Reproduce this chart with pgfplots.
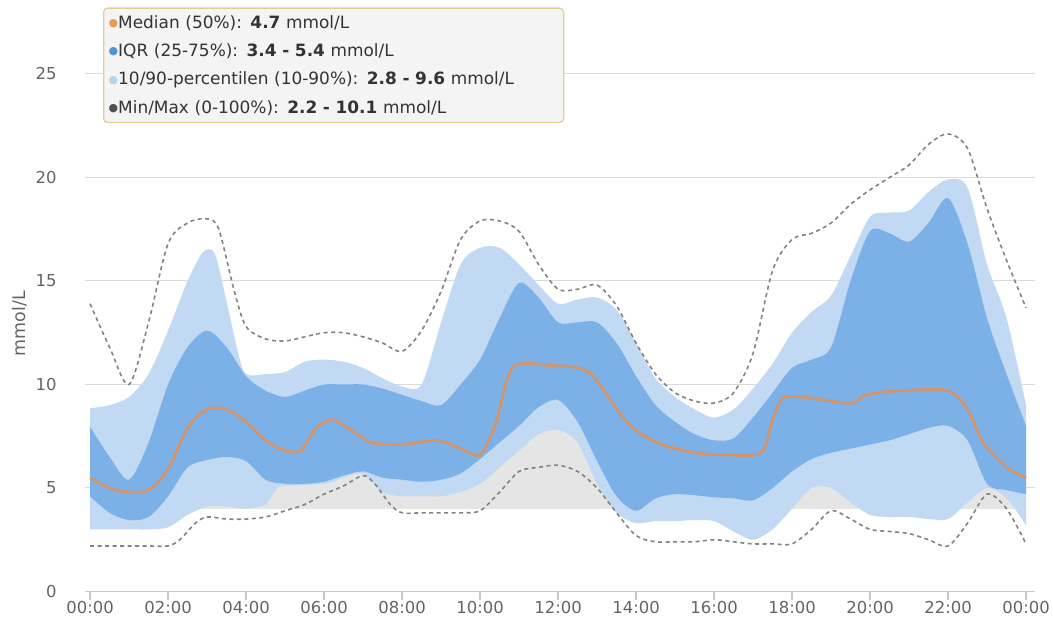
\documentclass[border=0pt]{standalone}
\usepackage{pgfplots}
\pgfplotsset{compat=1.18}
\usepackage{pgfplotstable}
\usepgfplotslibrary{fillbetween}
\usepackage{fontspec}
\setmainfont{DejaVu Sans}

\definecolor{lb}{RGB}{193,217,242}
\definecolor{ib}{RGB}{124,177,232}
\definecolor{gb}{RGB}{229,229,229}
\definecolor{med}{RGB}{205,150,115}
\definecolor{dsh}{RGB}{130,130,130}
\definecolor{grd}{RGB}{218,218,218}
\definecolor{lgbd}{RGB}{228,206,150}
\definecolor{lgbg}{RGB}{244,244,244}
\definecolor{tck}{RGB}{100,100,100}
\definecolor{bmed}{RGB}{232,155,85}
\definecolor{biqr}{RGB}{80,150,215}
\definecolor{bpc}{RGB}{185,210,235}
\definecolor{bmm}{RGB}{80,80,80}

\pgfplotstableread{
x y
0 4
24 4
}\tgl
\pgfplotstableread{
x y
0 7.8
24 7.8
}\tgh

\pgfplotstableread{
x y
0 13.9
0.5 11.8
1 10.0
1.5 13.0
2 16.8
2.5 17.8
3 18.0
3.3 17.5
3.7 14.5
4 12.8
4.5 12.2
5 12.1
5.5 12.3
6 12.5
6.5 12.5
7 12.3
7.5 12.0
8 11.6
8.5 12.6
9 14.5
9.5 17.0
10 17.9
10.5 17.9
11 17.4
11.5 15.8
12 14.6
12.5 14.6
13 14.8
13.5 13.8
14 12.0
14.5 10.5
15 9.6
15.5 9.2
16 9.1
16.5 9.6
17 11.5
17.5 15.5
18 17.0
18.5 17.3
19 17.8
19.5 18.7
20 19.4
20.5 20.0
21 20.6
21.5 21.6
22 22.1
22.5 21.4
23 18.5
23.5 16.0
24 13.7
}\tmax

\pgfplotstableread{
x y
0 2.2
0.5 2.2
1 2.2
1.5 2.2
2 2.2
2.3 2.5
2.7 3.3
3 3.6
3.5 3.5
4 3.5
4.5 3.6
5 3.9
5.5 4.2
6 4.7
6.5 5.1
7 5.6
7.3 5.2
7.7 4.2
8 3.8
8.5 3.8
9 3.8
9.5 3.8
10 3.9
10.5 4.8
11 5.8
11.5 6.0
12 6.1
12.5 5.8
13 5.0
13.5 3.8
14 2.7
14.5 2.4
15 2.4
15.5 2.4
16 2.5
16.5 2.4
17 2.3
17.5 2.3
18 2.3
18.5 3.0
19 3.9
19.5 3.5
20 3.0
20.5 2.9
21 2.8
21.5 2.5
22 2.2
22.5 3.3
23 4.7
23.5 4.0
24 2.3
}\tmin

\pgfplotstableread{
x y
0 8.85
0.5 9.0
1 9.4
1.5 10.5
2 12.6
2.5 15.0
2.9 16.4
3.2 16.3
3.5 14.0
3.8 11.5
4 10.5
4.5 10.5
5 10.6
5.5 11.1
6 11.2
6.5 11.1
7 10.8
7.5 10.3
8 9.9
8.5 10.0
9 13.0
9.5 15.8
10 16.6
10.5 16.6
11 15.8
11.5 14.8
12 13.9
12.5 14.1
13 14.2
13.5 13.6
14 12.0
14.5 10.3
15 9.4
15.5 8.8
16 8.4
16.5 8.8
17 9.8
17.5 11.0
18 12.5
18.5 13.5
19 14.3
19.5 16.2
20 18.1
20.5 18.3
21 18.4
21.5 19.3
22 19.9
22.5 19.5
23 15.8
23.5 13.2
24 9.0
}\tpn

\pgfplotstableread{
x y
0 3.0
0.5 3.0
1 3.0
1.5 3.0
2 3.1
2.5 3.7
3 4.1
3.5 4.1
4 4.0
4.5 4.2
4.8 5.0
5 5.1
6 5.2
6.5 5.5
7 5.7
7.5 4.8
8 4.6
8.5 4.6
9 4.6
9.5 4.8
10 5.2
10.5 6.0
11 6.8
11.5 7.6
12 7.8
12.5 7.2
13 5.2
13.5 3.8
14 3.3
14.5 3.4
15 3.4
15.5 3.45
16 3.4
16.5 2.9
17 2.5
17.5 3.0
18 4.0
18.5 5.0
19 5.0
19.5 4.3
20 3.7
20.5 3.6
21 3.6
21.5 3.5
22 3.5
22.5 4.3
23 5.0
23.5 4.5
24 3.2
}\tpt

\pgfplotstableread{
x y
0 7.95
0.5 6.5
1 5.4
1.5 7.2
2 10.0
2.5 11.8
3 12.6
3.5 11.8
4 10.4
4.5 9.7
5 9.4
5.5 9.7
6 10.0
6.5 10.0
7 10.0
7.5 9.8
8 9.5
8.5 9.2
9 9.0
9.5 10.0
10 11.2
10.5 13.2
11 14.9
11.5 14.2
12 13.0
12.5 13.0
13 13.0
13.5 12.0
14 10.4
14.5 9.0
15 8.2
15.5 7.6
16 7.3
16.5 7.4
17 8.4
17.5 9.6
18 10.8
18.5 11.2
19 11.8
19.5 15.0
20 17.4
20.5 17.3
21 16.9
21.5 17.8
22 19.0
22.5 16.8
23 13.2
23.5 10.5
24 8.0
}\tqu

\pgfplotstableread{
x y
0 4.6
0.5 3.8
1 3.45
1.5 3.6
2 4.6
2.5 6.0
3 6.35
3.5 6.5
4 6.3
4.5 5.4
5 5.2
5.5 5.2
6 5.3
6.5 5.6
7 5.8
7.5 5.5
8 5.4
8.5 5.3
9 5.4
9.5 5.7
10 6.4
10.5 7.2
11 8.0
11.5 8.9
12 9.25
12.5 8.2
13 6.3
13.5 4.6
14 3.9
14.5 4.5
15 4.7
15.5 4.65
16 4.55
16.5 4.5
17 4.4
17.5 5.0
18 5.8
18.5 6.4
19 6.7
19.5 6.9
20 7.1
20.5 7.3
21 7.6
21.5 7.9
22 8.0
22.5 7.3
23 5.2
23.5 4.9
24 4.7
}\tql

\pgfplotstableread{
x y
0 5.5
0.5 5.0
1 4.8
1.5 4.9
2 5.9
2.5 7.9
3 8.8
3.5 8.8
4 8.2
4.5 7.3
5 6.8
5.4 6.8
5.8 7.9
6.2 8.3
6.7 7.8
7.2 7.2
8 7.1
8.9 7.3
9.5 6.9
10 6.6
10.4 8.1
10.85 10.85
11.9 10.9
12.4 10.85
12.9 10.4
13.8 8.1
14.6 7.15
15.5 6.7
16.3 6.6
17.2 6.7
17.5 8.3
17.75 9.3
18.2 9.4
19.5 9.1
19.9 9.5
20.8 9.7
22 9.7
22.5 8.8
22.9 7.2
23.5 6.0
24 5.5
}\tmed

\begin{document}
\begin{tikzpicture}
\begin{axis}[
  scale only axis,
  width=950bp, height=591.5bp,
  xmin=-0.13, xmax=24.23,
  ymin=0, ymax=28.57,
  axis x line*=bottom,
  axis y line*=left,
  y axis line style={draw=none},
  x axis line style={-, draw=grd!80!gray, line width=1.2bp},
  ytick={0,5,10,15,20,25},
  ymajorgrids,
  grid style={draw=grd, line width=1bp},
  ytick style={draw=none},
  xtick={0,2,4,6,8,10,12,14,16,18,20,22,24},
  xticklabels={00:00,02:00,04:00,06:00,08:00,10:00,12:00,14:00,16:00,18:00,20:00,22:00,00:00},
  tick align=outside,
  xtick style={draw=grd!80!gray, line width=1.2bp},
  major tick length=8bp,
  /pgf/number format/assume math mode=true,
  ticklabel style={font=\fontsize{16.5}{18}\selectfont, text=tck},
  yticklabel style={xshift=-17bp},
  xticklabel style={yshift=2bp},
  clip=true,
]
\addplot[name path=gl, draw=none] table {\tgl};
\addplot[name path=gh, draw=none] table {\tgh};
\addplot[fill=gb, draw=none] fill between[of=gh and gl];

\addplot[name path=pn, draw=none, smooth] table {\tpn};
\addplot[name path=pt, draw=none, smooth] table {\tpt};
\addplot[fill=lb, draw=none] fill between[of=pn and pt];

\addplot[name path=qu, draw=none, smooth] table {\tqu};
\addplot[name path=ql, draw=none, smooth] table {\tql};
\addplot[fill=ib, draw=none] fill between[of=qu and ql];

\addplot[draw=dsh, line width=1.6bp, dash pattern=on 4bp off 3.5bp, smooth] table {\tmax};
\addplot[draw=dsh, line width=1.6bp, dash pattern=on 4bp off 3.5bp, smooth] table {\tmin};

\addplot[draw=med, line width=3bp, smooth, tension=0.45] table {\tmed};
\end{axis}

\node[rotate=90, text=tck, font=\fontsize{17.5}{20}\selectfont] at (-65bp,268bp) {mmol/L};

\node[anchor=north west, draw=lgbd, fill=lgbg, rounded corners=4bp, line width=1.3bp,
  inner xsep=5bp, inner ysep=7bp, text width=450bp, align=left,
  font=\fontsize{17}{28.5}\selectfont, text=black!80]
  at (18bp,584bp) {%
  \raisebox{1.5bp}{\fontsize{11}{11}\selectfont\textcolor{bmed}{●}}Median (50\%): \textbf{4.7} mmol/L\\
  \raisebox{1.5bp}{\fontsize{11}{11}\selectfont\textcolor{biqr}{●}}IQR (25-75\%): \textbf{3.4 - 5.4} mmol/L\\
  \raisebox{1.5bp}{\fontsize{11}{11}\selectfont\textcolor{bpc}{●}}10/90-percentilen (10-90\%): \textbf{2.8 - 9.6} mmol/L\\
  \raisebox{1.5bp}{\fontsize{11}{11}\selectfont\textcolor{bmm}{●}}Min/Max (0-100\%): \textbf{2.2 - 10.1} mmol/L};

\pgfresetboundingbox
\path[use as bounding box] (-85bp,-32.5bp) rectangle (968bp,591.5bp);
\end{tikzpicture}
\end{document}
